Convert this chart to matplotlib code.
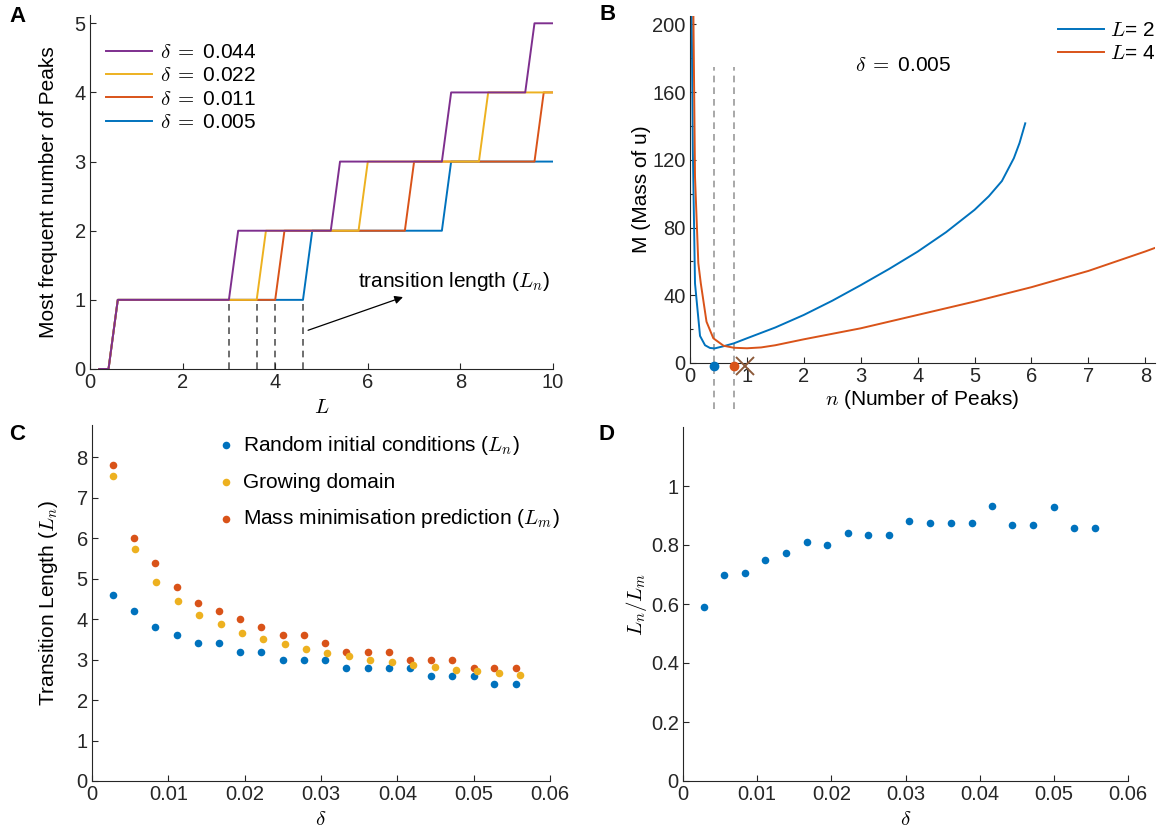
import numpy as np
import matplotlib
matplotlib.use("Agg")
import matplotlib.pyplot as plt
from matplotlib.ticker import FuncFormatter, MultipleLocator

plt.rcParams['font.family'] = ['Liberation Sans', 'DejaVu Sans']
plt.rcParams['mathtext.fontset'] = 'cm'
plt.rcParams['font.size'] = 14
plt.rcParams['axes.linewidth'] = 0.8
plt.rcParams['axes.edgecolor'] = '#262626'
plt.rcParams['xtick.color'] = '#262626'
plt.rcParams['ytick.color'] = '#262626'
plt.rcParams['xtick.direction'] = 'in'
plt.rcParams['ytick.direction'] = 'in'

BLUE = '#0072BD'
RED = '#D95319'
YELLOW = '#EDB120'
PURPLE = '#7E2F8E'
BROWN = '#8C5A3A'

LABEL_FS = 15
TICK_FS = 14.5

# ---- A: most frequent number of peaks vs domain length (step vertices)
A_labels = ['0.005', '0.011', '0.022', '0.044']
A_colors = [BLUE, RED, YELLOW, PURPLE]
A_L = [
    [0.2, 0.4, 0.6, 4.6, 4.8, 7.6, 7.8, 10],
    [0.2, 0.4, 0.6, 4.0, 4.2, 6.8, 7.0, 9.6, 9.8, 10],
    [0.2, 0.4, 0.6, 3.6, 3.8, 5.8, 6.0, 8.4, 8.6, 10],
    [0.2, 0.4, 0.6, 3.0, 3.2, 5.2, 5.4, 7.6, 7.8, 9.4, 9.6, 10],
]
A_N = [
    [0, 0, 1, 1, 2, 2, 3, 3],
    [0, 0, 1, 1, 2, 2, 3, 3, 4, 4],
    [0, 0, 1, 1, 2, 2, 3, 3, 4, 4],
    [0, 0, 1, 1, 2, 2, 3, 3, 4, 4, 5, 5],
]
A_trans = [3.0, 3.6, 4.0, 4.6]

# ---- B: mass of u vs number of peaks, delta = 0.005
B_n2 = [0.03, 0.05, 0.088, 0.176, 0.264, 0.35, 0.43, 0.6, 0.77, 1.0, 1.5, 2.0,
        2.5, 3.0, 3.5, 4.0, 4.5, 5.0, 5.25, 5.48, 5.69, 5.79, 5.89]
B_M2 = [205, 125, 47, 16, 10.5, 8.9, 8.6, 10.0, 11.6, 14.6, 21, 28.4,
        36.8, 46, 55.6, 65.8, 77.3, 90.5, 98.5, 107.5, 121, 130, 141.6]
B_n4 = [0.06, 0.088, 0.146, 0.19, 0.29, 0.41, 0.59, 0.77, 1.0, 1.25, 1.5, 2.0,
        3.0, 4.0, 5.0, 6.0, 7.0, 8.0, 8.17]
B_M4 = [205, 110, 59, 47, 24.4, 14.6, 10.2, 9.0, 8.7, 9.2, 10.5, 14,
        20.5, 28.4, 36.3, 44.8, 54.4, 65.9, 68]
B_nmin = [0.43, 0.77]
B_cross = 0.97

# ---- C/D: transition lengths vs delta
delta = [0.0028, 0.0055, 0.0083, 0.0111, 0.0139, 0.0167, 0.0194, 0.0222, 0.025, 0.0278,
         0.0305, 0.0333, 0.0361, 0.0389, 0.0416, 0.0444, 0.0472, 0.05, 0.0527, 0.0555]
delta_grow = [0.00275, 0.00563, 0.00842, 0.01121, 0.014, 0.01684, 0.01963, 0.02243,
              0.02526, 0.02805, 0.03085, 0.03368, 0.03648, 0.03927, 0.04206, 0.0449,
              0.04769, 0.05048, 0.05332, 0.05611]
L_random = [4.6, 4.2, 3.8, 3.6, 3.4, 3.4, 3.2, 3.2, 3.0, 3.0,
            3.0, 2.8, 2.8, 2.8, 2.8, 2.6, 2.6, 2.6, 2.4, 2.4]
L_grow = [7.53, 5.73, 4.93, 4.44, 4.11, 3.87, 3.67, 3.51, 3.38, 3.26,
          3.17, 3.08, 2.99, 2.93, 2.86, 2.81, 2.75, 2.71, 2.66, 2.62]
L_mass = [7.8, 6.0, 5.4, 4.8, 4.4, 4.2, 4.0, 3.8, 3.6, 3.6,
          3.4, 3.2, 3.2, 3.2, 3.0, 3.0, 3.0, 2.8, 2.8, 2.8]

W, H = 1159, 832
fig = plt.figure(figsize=(W / 100, H / 100), dpi=100)


def px_axes(left, top, right, bottom):
    return fig.add_axes([left / W, 1 - bottom / H, (right - left) / W, (bottom - top) / H])


def style(ax):
    ax.spines['top'].set_visible(False)
    ax.spines['right'].set_visible(False)
    ax.tick_params(length=4, width=0.8, labelsize=TICK_FS, pad=3)


gfmt = FuncFormatter(lambda v, p: '%g' % round(v, 6))
dlab = r'$\delta\;=\;$'

# A
axA = px_axes(90, 15, 553, 369)
style(axA)
lines = []
for L, N, c in zip(A_L, A_N, A_colors):
    lines.append(axA.plot(L, N, color=c, lw=1.4)[0])
for t in A_trans:
    axA.plot([t, t], [0, 1], ls=(0, (4, 3)), color='#555555', lw=1.2, zorder=0)
axA.set_xlim(0, 10)
axA.set_ylim(0, 5.12)
axA.set_xticks(range(0, 11, 2))
axA.set_yticks(range(0, 6))
axA.set_xlabel('$L$', fontsize=LABEL_FS, labelpad=4)
axA.set_ylabel('Most frequent number of Peaks', fontsize=LABEL_FS, labelpad=12)
axA.legend(lines[::-1], [dlab + s for s in A_labels[::-1]],
           loc='upper left', bbox_to_anchor=(0.035, 0.92), frameon=False,
           fontsize=LABEL_FS, handlelength=2.2, handletextpad=0.4, labelspacing=0.2,
           borderpad=0, borderaxespad=0)
axA.annotate('', xy=(6.76, 1.04), xytext=(4.71, 0.56),
             arrowprops=dict(arrowstyle='-|>', color='black', lw=0.9,
                             mutation_scale=12, shrinkA=0, shrinkB=0))
axA.text(5.79, 1.26, 'transition length ($L_n$)', fontsize=LABEL_FS, va='center', ha='left')

# B
axB = px_axes(690, 16, 1155, 363)
style(axB)
lB2, = axB.plot(B_n2, B_M2, color=BLUE, lw=1.4)
lB4, = axB.plot(B_n4, B_M4, color=RED, lw=1.4)
for nm in B_nmin:
    axB.plot([nm, nm], [-27, 175], ls=(0, (4, 3)), color='#999999', lw=1.2,
             clip_on=False, zorder=0)
axB.plot([B_nmin[0]], [-1.5], 'o', color=BLUE, ms=6, clip_on=False, zorder=5)
axB.plot([B_nmin[1]], [-1.5], 'o', color=RED, ms=6, clip_on=False, zorder=5)
axB.plot([B_cross], [-1.5], 'x', color=BROWN, ms=13, mew=1.4, clip_on=False, zorder=5)
axB.set_xlim(0, 8.17)
axB.set_ylim(0, 205)
axB.set_xticks(range(0, 9))
axB.set_yticks(range(0, 201, 40))
axB.yaxis.set_minor_locator(MultipleLocator(20))
axB.tick_params(which='minor', length=2.5, width=0.8)
axB.set_xlabel('$n$ (Number of Peaks)', fontsize=LABEL_FS, labelpad=1)
axB.set_ylabel('M (Mass of u)', fontsize=LABEL_FS, labelpad=1)
axB.text(3.74, 176, dlab + '0.005', fontsize=LABEL_FS, ha='center', va='center')
axB.legend([lB2, lB4], ['$L$= 2', '$L$= 4'], loc='upper right',
           bbox_to_anchor=(1.0, 0.985), frameon=False, fontsize=LABEL_FS,
           handlelength=2.2, handletextpad=0.3, labelspacing=0.2,
           borderpad=0, borderaxespad=0)

# C
axC = px_axes(92, 425, 550, 781)
style(axC)
sR = axC.scatter(delta, L_random, s=30, color=BLUE, lw=0, zorder=3)
sG = axC.scatter(delta_grow, L_grow, s=30, color=YELLOW, lw=0, zorder=4)
sM = axC.scatter(delta, L_mass, s=30, color=RED, lw=0, zorder=2)
axC.set_xlim(0, 0.06)
axC.set_ylim(0, 8.8)
axC.set_xticks(np.arange(0, 0.061, 0.01))
axC.set_yticks(range(0, 9))
axC.xaxis.set_major_formatter(gfmt)
axC.set_xlabel(r'$\delta$', fontsize=LABEL_FS, labelpad=4)
axC.set_ylabel('Transition Length ($L_n$)', fontsize=LABEL_FS, labelpad=12)
axC.legend([sR, sG, sM],
           ['Random initial conditions ($L_n$)', 'Growing domain',
            'Mass minimisation prediction ($L_m$)'],
           loc='upper left', bbox_to_anchor=(0.28, 0.975), frameon=False,
           fontsize=LABEL_FS, handlelength=0.6, handletextpad=0.5, labelspacing=0.75,
           borderpad=0, borderaxespad=0, scatterpoints=1)

# D
ratio = np.array(L_random) / np.array(L_mass)
axD = px_axes(683, 427, 1128, 781)
style(axD)
axD.scatter(delta, ratio, s=30, color=BLUE, lw=0)
axD.set_xlim(0, 0.06)
axD.set_ylim(0, 1.2)
axD.set_xticks(np.arange(0, 0.061, 0.01))
axD.set_yticks(np.arange(0, 1.01, 0.2))
axD.xaxis.set_major_formatter(gfmt)
axD.yaxis.set_major_formatter(gfmt)
axD.set_xlabel(r'$\delta$', fontsize=LABEL_FS, labelpad=4)
axD.set_ylabel('$L_n/L_m$', fontsize=LABEL_FS, labelpad=1)

for lab, x, y in [('A', 17, 16), ('B', 608, 15), ('C', 17, 435), ('D', 607, 435)]:
    fig.text(x / W, 1 - y / H, lab, fontsize=16, fontweight='bold', ha='center', va='center')

fig.savefig('out.png', dpi=100)
